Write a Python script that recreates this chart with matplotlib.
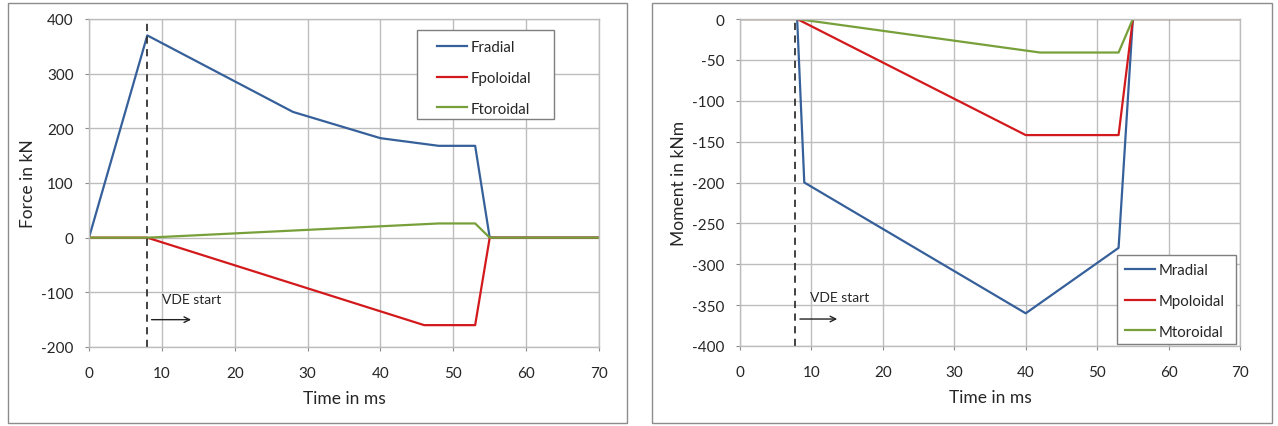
import matplotlib
matplotlib.use("Agg")
import matplotlib.pyplot as plt
from matplotlib.patches import Rectangle

plt.rcParams['font.family'] = ['Lato', 'DejaVu Sans']
plt.rcParams['axes.unicode_minus'] = False

# ---- data: left (forces) ----
t_frad = [0, 8, 28, 40, 48, 53, 55, 70]
f_rad = [0, 370, 230, 182, 168, 168, 0, 0]
t_fpol = [0, 8, 46, 53, 55, 70]
f_pol = [0, 0, -160, -160, 0, 0]
t_ftor = [0, 8, 48, 53, 55, 70]
f_tor = [0, 0, 26, 26, 0, 0]

# ---- data: right (moments) ----
t_mrad = [0, 8, 9, 40, 53, 55, 70]
m_rad = [0, 0, -200, -360, -280, 0, 0]
t_mpol = [0, 8, 40, 53, 55, 70]
m_pol = [0, 0, -142, -142, 0, 0]
t_mtor = [0, 8, 42, 53, 55, 70]
m_tor = [0, 0, -41, -41, 0, 0]

xticks = [0, 10, 20, 30, 40, 50, 60, 70]
f_yticks = [-200, -100, 0, 100, 200, 300, 400]
m_yticks = [-400, -350, -300, -250, -200, -150, -100, -50, 0]
vde_left = 8
vde_right = 7.7

BLUE = "#36609A"
RED = "#D2191C"
GREEN = "#77A03A"
GRID = "#BDBDBD"
TXT = "#262626"

W, H = 1278, 427
fig = plt.figure(figsize=(W / 100, H / 100), dpi=100)

def frame(x0, y0, x1, y1, color, lw=1.0, z=1):
    fig.patches.append(Rectangle((x0 / W, 1 - y1 / H), (x1 - x0) / W, (y1 - y0) / H,
                                 transform=fig.transFigure, fill=False,
                                 edgecolor=color, lw=lw, zorder=z))

# panel frames
frame(8, 4, 627, 424, "#8C8C8C")
frame(652, 4, 1272, 424, "#8C8C8C")

def ax_at(l, r, t, b):
    return fig.add_axes([l / W, 1 - b / H, (r - l) / W, (b - t) / H])

def style(ax, yticks, ylab):
    ax.set_xlim(0, 70)
    ax.set_xticks(xticks)
    ax.set_ylim(yticks[0], yticks[-1])
    ax.set_yticks(yticks)
    ax.grid(True, color=GRID, lw=1.0)
    ax.set_axisbelow(True)
    for s in ax.spines.values():
        s.set_color(GRID)
        s.set_linewidth(1.0)
    ax.tick_params(axis='both', colors="#8C8C8C", labelcolor=TXT, labelsize=11,
                   length=3, direction='out')
    ax.tick_params(axis='x', pad=11)
    ax.tick_params(axis='y', pad=8)
    ax.set_xlabel("Time in ms", fontsize=12.5, color=TXT, labelpad=7)
    ax.set_ylabel(ylab, fontsize=12.5, color=TXT, labelpad=4)

LW = 1.6

def legend(ax, box, **kw):
    # white box with gray frame drawn behind legend entries
    x0, y0, x1, y1 = box
    l, b, w, h = ax.get_position().bounds
    bx = Rectangle(((x0 / W - l) / w, (1 - y1 / H - b) / h), (x1 - x0) / W / w, (y1 - y0) / H / h,
                   transform=ax.transAxes, facecolor="white", edgecolor="#7F7F7F",
                   lw=1.0, zorder=4, clip_on=False)
    ax.add_patch(bx)
    leg = ax.legend(fontsize=10.8, frameon=False, handlelength=2.0,
                    labelspacing=1.12, borderpad=0, handletextpad=0.25,
                    borderaxespad=0, **kw)
    leg.set_zorder(5)
    for t in leg.get_texts():
        t.set_color(TXT)
    return leg

# ---- left chart ----
ax1 = ax_at(89, 599, 20, 348)
style(ax1, f_yticks, "Force in kN")
ax1.plot(t_frad, f_rad, color=BLUE, lw=LW, label="Fradial")
ax1.plot(t_fpol, f_pol, color=RED, lw=LW, label="Fpoloidal")
ax1.plot(t_ftor, f_tor, color=GREEN, lw=LW, label="Ftoroidal")
ax1.axvline(vde_left, color="#333333", lw=1.3, ls=(0, (4, 3)))
ax1.text(10, -112, "VDE start", fontsize=10, color=TXT, va='center', ha='left')
ax1.annotate("", xy=(14.4, -150), xytext=(8.2, -150),
             arrowprops=dict(arrowstyle="->", color="#222222", lw=1.0))
legend(ax1, (417, 31, 554, 120), loc='upper left',
       bbox_to_anchor=((437 - 89) / 510, 1 - (41 - 20) / 328))

# ---- right chart ----
ax2 = ax_at(740, 1240, 20, 347)
style(ax2, m_yticks, "Moment in kNm")
ax2.plot(t_mrad, m_rad, color=BLUE, lw=LW, label="Mradial")
ax2.plot(t_mpol, m_pol, color=RED, lw=LW, label="Mpoloidal")
ax2.plot(t_mtor, m_tor, color=GREEN, lw=LW, label="Mtoroidal")
ax2.axvline(vde_right, color="#333333", lw=1.3, ls=(0, (4, 3)))
ax2.text(9.8, -340, "VDE start", fontsize=10, color=TXT, va='center', ha='left')
ax2.annotate("", xy=(14.0, -367), xytext=(8.0, -367),
             arrowprops=dict(arrowstyle="->", color="#222222", lw=1.0))
legend(ax2, (1117, 256, 1236, 345), loc='upper left',
       bbox_to_anchor=((1125 - 740) / 500, 1 - (264 - 20) / 327))

fig.savefig("out.png", dpi=100)
